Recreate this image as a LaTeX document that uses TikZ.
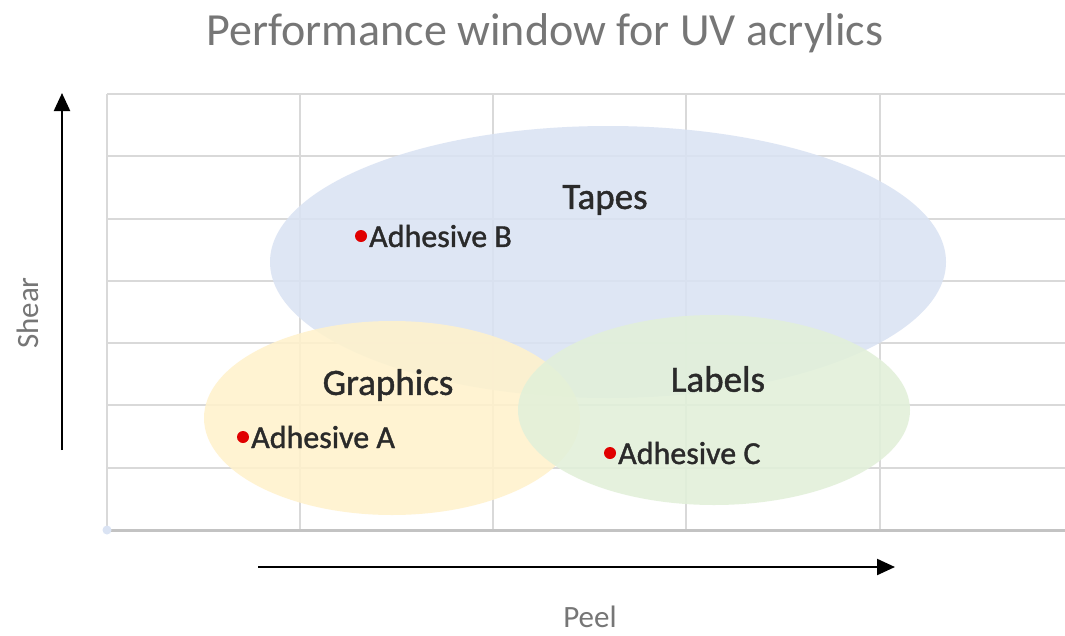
\documentclass[tikz,border=0pt]{standalone}
\usepackage{fontspec}
\setmainfont{Carlito}
\newfontfamily\heavyfont[FakeBold=1.2]{Carlito}
\usetikzlibrary{arrows.meta,shapes.geometric}
\definecolor{gridgray}{HTML}{D9D9D9}
\definecolor{tapesblue}{HTML}{DAE3F3}
\definecolor{graphicsyellow}{HTML}{FFF2CC}
\definecolor{labelsgreen}{HTML}{E2F0D9}
\definecolor{textdark}{HTML}{2A2A2A}
\definecolor{axisgray}{HTML}{767676}
\definecolor{dotred}{HTML}{E00000}
\tikzset{
  gridline/.style={draw=gridgray, line width=2pt},
  region/.style={ellipse, inner sep=0pt, fill opacity=0.88},
  regionlabel/.style={font=\heavyfont\fontsize{37}{44}\selectfont, text=textdark, inner sep=0pt},
  sample/.style={font=\heavyfont\fontsize{32}{38}\selectfont, text=textdark, inner sep=0pt, anchor=west},
  point/.style={circle, fill=dotred, minimum size=12pt, inner sep=0pt},
  axisarrow/.style={draw=black, line width=2.2pt, -{Triangle[length=18pt,width=16pt]}},
  axislabel/.style={font=\fontsize{31}{36}\selectfont, text=axisgray, inner sep=0pt},
}
\begin{document}
\begin{tikzpicture}[x=1pt,y=-1pt]
\useasboundingbox (0,0) rectangle (1065,635);
\fill[white] (0,0) rectangle (1065,635);

% title
\node[font=\fontsize{46}{54}\selectfont, text=axisgray] (title) at (545,33) {Performance window for UV acrylics};

% grid
\foreach \y in {94,156.3,218.6,280.9,343.1,405.4,467.7}
  \draw[gridline] (107,\y) -- (1065,\y);
\foreach \x in {107,300,493,686,880}
  \draw[gridline] (\x,94) -- (\x,530);
\draw[draw=gridgray!90!black, line width=3pt] (107,530) -- (1065,530);
\node[circle, fill=tapesblue, minimum size=9pt, inner sep=0pt] (origin) at (107,530) {};

% regions
\node[region, fill=tapesblue, minimum width=676pt, minimum height=272pt] (tapes) at (608,262) {};
\node[region, fill=graphicsyellow, minimum width=376pt, minimum height=194pt] (graphics) at (392,418) {};
\node[region, fill=labelsgreen, minimum width=392pt, minimum height=190pt] (labels) at (714,410) {};

% region names
\node[regionlabel] (tapesname) at (605,200) {Tapes};
\node[regionlabel] (graphicsname) at (388,385) {Graphics};
\node[regionlabel] (labelsname) at (718,379) {Labels};

% samples
\node[point] (pa) at (243,437) {};
\node[sample] (adha) at (251,437) {Adhesive A};
\node[point] (pb) at (361,236) {};
\node[sample] (adhb) at (369,236) {Adhesive B};
\node[point] (pc) at (610,453) {};
\node[sample] (adhc) at (618,453) {Adhesive C};

% axes
\coordinate (ybot) at (62,450);
\coordinate (ytop) at (62,93);
\coordinate (xleft) at (258,567);
\coordinate (xright) at (895,567);
\draw[axisarrow] (ybot) -- (ytop);
\draw[axisarrow] (xleft) -- (xright);
\node[axislabel, rotate=90] (shear) at (28,313) {Shear};
\node[axislabel] (peel) at (590,617) {Peel};
\end{tikzpicture}
\end{document}
